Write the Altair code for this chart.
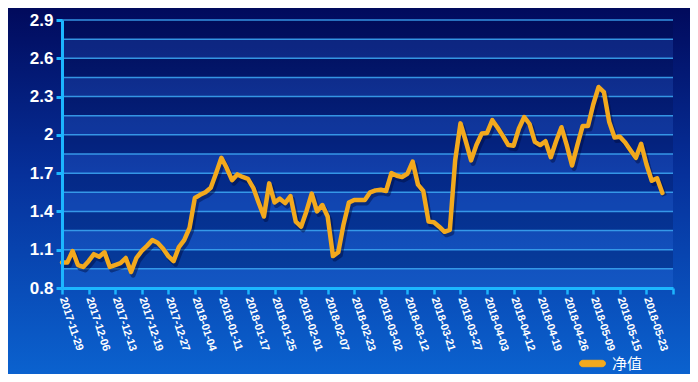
import json
import altair as alt
import pandas as pd

# ---------------- data ----------------
DATE_LABELS = [
    "2017-11-29", "2017-12-06", "2017-12-13", "2017-12-19", "2017-12-27",
    "2018-01-04", "2018-01-11", "2018-01-17", "2018-01-25", "2018-02-01",
    "2018-02-07", "2018-02-23", "2018-03-02", "2018-03-12", "2018-03-21",
    "2018-03-27", "2018-04-03", "2018-04-12", "2018-04-19", "2018-04-26",
    "2018-05-09", "2018-05-15", "2018-05-23",
]
NAV = [
    1.00, 1.00, 1.09, 0.98, 0.965, 1.01, 1.065, 1.045, 1.08, 0.965,
    0.98, 0.995, 1.035, 0.925, 1.035, 1.09, 1.13, 1.175, 1.155, 1.11,
    1.05, 1.01, 1.12, 1.175, 1.27, 1.505, 1.53, 1.55, 1.585, 1.70,
    1.82, 1.74, 1.645, 1.69, 1.67, 1.655, 1.585, 1.47, 1.36, 1.62,
    1.47, 1.50, 1.465, 1.52, 1.32, 1.28, 1.40, 1.54, 1.40, 1.45,
    1.36, 1.05, 1.08, 1.30, 1.47, 1.49, 1.49, 1.49, 1.55, 1.565,
    1.57, 1.56, 1.70, 1.68, 1.67, 1.695, 1.79, 1.61, 1.56, 1.32,
    1.315, 1.28, 1.24, 1.255, 1.80, 2.09, 1.95, 1.80, 1.92, 2.01,
    2.015, 2.115, 2.055, 1.99, 1.92, 1.915, 2.05, 2.14, 2.085, 1.945,
    1.92, 1.95, 1.825, 1.95, 2.06, 1.92, 1.76, 1.92, 2.07, 2.07,
    2.24, 2.375, 2.335, 2.10, 1.98, 1.985, 1.94, 1.88, 1.82, 1.93,
    1.77, 1.64, 1.66, 1.545,
]
SERIES_NAME = "净值"
Y_TICKS = [0.8, 1.1, 1.4, 1.7, 2.0, 2.3, 2.6, 2.9]
GRID_LEVELS = [0.95, 1.1, 1.25, 1.4, 1.55, 1.7, 1.85, 2.0, 2.15, 2.3, 2.45, 2.6, 2.75, 2.9]
LIGHT_BANDS = [0.8, 1.1, 1.4, 1.7, 2.0, 2.3, 2.6]
DARK_BANDS = [0.95, 1.25, 1.55, 1.85, 2.15, 2.45, 2.75]
X_TICK_POS = [0, 5, 10, 15, 20, 25, 30, 35, 40, 45, 50, 55, 60, 65, 70, 75,
              80, 85, 90, 95, 100, 105, 110, 115]
X_MAX = 115

# ---------------- style ----------------
W, H = 611, 268
PAD = {"left": 54, "top": 12, "right": 17, "bottom": 86}
LINE_COLOR = "#f3a91d"
AXIS_COLOR = "#1cb6ff"
GRID_COLOR = "#3aa2f0"
FONT = "Liberation Sans"
PILL = "M-1,-0.33 L1,-0.33 A0.33,0.33 0 0 1 1,0.33 L-1,0.33 A0.33,0.33 0 0 1 -1,-0.33 Z"

df = pd.DataFrame({"idx": list(range(len(NAV))), "nav": NAV, "series": SERIES_NAME})
light = pd.DataFrame({"y0": LIGHT_BANDS})
light["y1"] = light["y0"] + 0.15
dark = pd.DataFrame({"y0": DARK_BANDS})
dark["y1"] = dark["y0"] + 0.15
grid = pd.DataFrame({"g": GRID_LEVELS})

yscale = alt.Scale(domain=[0.8, 2.9], nice=False, zero=False)
xscale = alt.Scale(domain=[0, X_MAX], nice=False, zero=False)

label_expr = "datum.value < %d ? %s[datum.value / 5] : ''" % (X_MAX, json.dumps(DATE_LABELS))

X_AXIS = alt.Axis(
    values=X_TICK_POS, labelExpr=label_expr, grid=False, zindex=1, title=None,
    domainColor=AXIS_COLOR, domainWidth=3, tickColor=AXIS_COLOR, tickWidth=2.5, tickSize=6,
    labelAngle=72, labelAlign="left", labelBaseline="middle", labelColor="white",
    labelFont=FONT, labelFontWeight="bold", labelFontSize=11, labelPadding=3,
    labelOverlap=False, labelFlush=False,
)
Y_AXIS = alt.Axis(
    values=Y_TICKS, format="~g", grid=False, zindex=1, title=None,
    domainColor=AXIS_COLOR, domainWidth=3, tickColor=AXIS_COLOR, tickWidth=3, tickSize=6,
    labelColor="white", labelFont=FONT, labelFontWeight="bold", labelFontSize=17,
    labelPadding=3, labelOverlap=False, labelFlush=False,
)

background = alt.Chart(pd.DataFrame({"a": [0]})).mark_rect(
    color=alt.Gradient(
        gradient="linear",
        stops=[alt.GradientStop(color="#010a5c", offset=0),
               alt.GradientStop(color="#06309a", offset=0.45),
               alt.GradientStop(color="#0b62cf", offset=1)],
        x1=0, x2=0, y1=0, y2=1,
    )
).encode(
    x=alt.value(-PAD["left"]), x2=alt.value(W + PAD["right"]),
    y=alt.value(-PAD["top"]), y2=alt.value(H + PAD["bottom"]),
)

light_layer = alt.Chart(light).mark_rect(color="#4a90ff", opacity=0.16).encode(
    x=alt.value(0), x2=alt.value(W),
    y=alt.Y("y0:Q", scale=yscale, axis=Y_AXIS),
    y2="y1:Q",
)
dark_layer = alt.Chart(dark).mark_rect(color="#000a3a", opacity=0.2).encode(
    x=alt.value(0), x2=alt.value(W),
    y=alt.Y("y0:Q", scale=yscale, axis=Y_AXIS),
    y2="y1:Q",
)

grid_layer = alt.Chart(grid).mark_rule(color=GRID_COLOR, strokeWidth=1.5, opacity=0.9).encode(
    x=alt.value(0), x2=alt.value(W),
    y=alt.Y("g:Q", scale=yscale, axis=Y_AXIS),
)

shadow = alt.Chart(df).mark_line(
    color="#000c3c", opacity=0.45, strokeWidth=5, strokeJoin="round", xOffset=2, yOffset=3
).encode(
    x=alt.X("idx:Q", scale=xscale, axis=X_AXIS),
    y=alt.Y("nav:Q", scale=yscale, axis=Y_AXIS),
)

line = alt.Chart(df).mark_line(strokeWidth=4.5, strokeJoin="round", strokeCap="round").encode(
    x=alt.X("idx:Q", scale=xscale, axis=X_AXIS),
    y=alt.Y("nav:Q", scale=yscale, axis=Y_AXIS),
    color=alt.Color(
        "series:N", scale=alt.Scale(domain=[SERIES_NAME], range=[LINE_COLOR]),
        legend=alt.Legend(
            title=None, orient="none", legendX=520, legendY=333, zindex=1,
            symbolType=PILL, symbolFillColor=LINE_COLOR, symbolStrokeWidth=1, symbolSize=380,
            labelColor="white", labelFont="Noto Sans CJK SC", labelFontSize=15, labelOffset=9,
        ),
    ),
)

chart = alt.layer(background, light_layer, dark_layer, grid_layer, shadow, line).properties(
    width=W, height=H,
    autosize=alt.AutoSizeParams(type="none"),
    padding=PAD,
).configure(background="#063a9e").configure_view(stroke=None)

chart.save("out.html", embed_options={"renderer": "svg", "actions": False})
